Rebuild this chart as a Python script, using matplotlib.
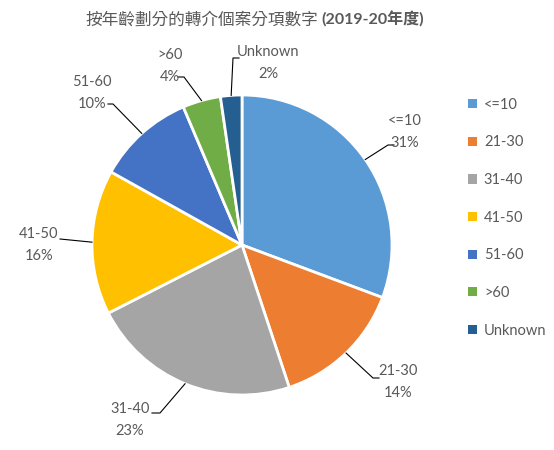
import numpy as np
import matplotlib
matplotlib.use("Agg")
import matplotlib.pyplot as plt
from matplotlib.patches import Patch

plt.rcParams['font.family'] = ['Lato', 'Noto Sans CJK TC', 'DejaVu Sans']

# data (percent of referrals)
categories = ['<=10', '21-30', '31-40', '41-50', '51-60', '>60', 'Unknown']
shares = [30.7, 14.2, 22.6, 15.6, 10.5, 4.1, 2.3]
colors = ['#5B9BD5', '#ED7D31', '#A5A5A5', '#FFC000', '#4472C4', '#70AD47', '#255E91']
title_main = '按年齡劃分的轉介個案分項數字'
title_year = '(2019-20年度)'

# label placement in pixels (centre of text, elbow of leader, tick direction)
W, H = 554, 450
cx, cy, R = 242, 245, 150
label_px = [(405, 132), (398, 382), (130, 420), (39, 245), (92, 93), (170, 66), (268, 63)]
elbow_px = [(388, 145), (373, 378), (160, 413), (60, 239), (113, 104), (184, 77), (233, 58)]
tick_px = [6, 6, -8, 0, -5, -6, 6]

grey = '#595959'

fig = plt.figure(figsize=(W / 100, H / 100), dpi=100)
ax = fig.add_axes([(cx - R) / W, (H - cy - R) / H, 2 * R / W, 2 * R / H])

wedges, _ = ax.pie(shares, colors=colors, startangle=90, counterclock=False,
                   radius=1, wedgeprops=dict(edgecolor='white', linewidth=2))
ax.set_xlim(-1, 1)
ax.set_ylim(-1, 1)
ax.axis('off')


def to_data(p):
    return ((p[0] - cx) / R, (cy - p[1]) / R)


for w, cat, val, lp, ep, tk in zip(wedges, categories, shares, label_px, elbow_px, tick_px):
    mid = np.deg2rad((w.theta1 + w.theta2) / 2)
    edge = (np.cos(mid), np.sin(mid))
    elbow = to_data(ep)
    end = to_data((ep[0] + tk, ep[1]))
    ax.plot([edge[0], elbow[0], end[0]], [edge[1], elbow[1], end[1]],
            color='black', lw=0.8, clip_on=False)
    tx, ty = to_data(lp)
    ax.text(tx, ty, f'{cat}\n{round(val):.0f}%', ha='center', va='center',
            fontsize=10.5, color=grey, linespacing=1.75, clip_on=False)

fig.text(318 / W, 1 - 20 / H, title_main, ha='right', va='center',
         fontsize=12, color=grey)
fig.text(321 / W, 1 - 20 / H, title_year, ha='left', va='center',
         fontsize=11.5, color=grey, fontweight='bold')

handles = [Patch(facecolor=c, edgecolor='none') for c in colors]
fig.legend(handles, categories, loc='upper left', bbox_to_anchor=(462 / W, 1 - 92 / H),
           frameon=False, fontsize=10.5, labelcolor=grey, handlelength=0.6,
           handleheight=0.6, handletextpad=0.5, labelspacing=1.62, borderaxespad=0)

fig.savefig('out.png', dpi=100, facecolor='white')
